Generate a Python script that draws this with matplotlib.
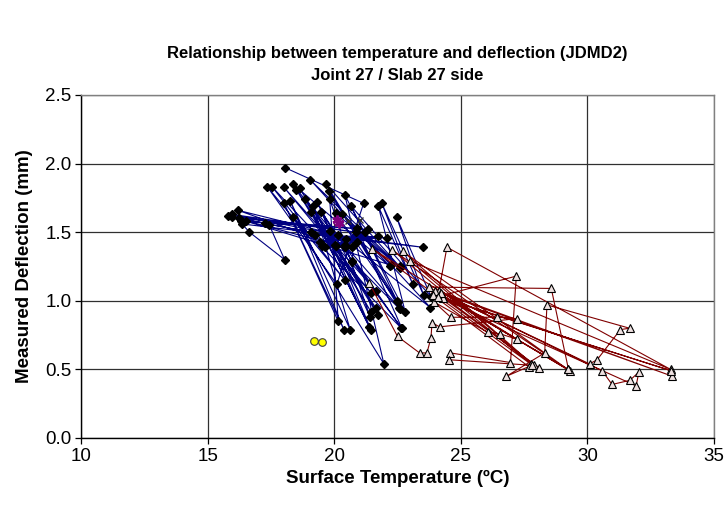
import matplotlib
matplotlib.use("Agg")
import matplotlib.pyplot as plt

plt.rcParams['font.family'] = ['Liberation Sans', 'DejaVu Sans']

##====================
## data
##====================
# joint side (blue line, black diamonds)
blue_temp = [18.06, 21.16, 20.10, 17.36, 20.42, 17.55, 21.45, 18.00, 21.65, 18.37,
             22.20, 19.06, 22.58, 19.68, 22.48, 19.79, 22.56, 18.84, 21.45, 18.50,
             21.63, 18.63, 21.71, 19.32, 21.42, 19.82, 20.16, 18.02, 20.38, 18.26,
             20.63, 19.18, 21.38, 19.10, 21.45, 19.49, 22.65, 18.37, 21.96, 20.42,
             22.80, 21.74, 23.10, 21.88, 23.53, 22.46, 23.82, 20.67, 22.50, 20.05,
             22.60, 20.32, 22.24, 15.80, 20.87, 15.95, 20.13, 16.19, 20.01, 15.98,
             20.47, 16.22, 21.32, 16.31, 16.52, 17.26, 17.44, 18.04, 16.65, 16.36,
             19.08, 23.50, 19.25, 22.10, 19.42, 21.72, 19.51, 20.91, 19.62, 20.71,
             19.84, 20.42, 20.05, 21.23, 20.41, 20.71, 20.74, 23.80, 20.90, 22.67,
             20.71, 22.58]
blue_defl = [1.97, 1.71, 1.12, 1.83, 1.15, 1.83, 1.06, 1.83, 1.07, 1.85,
             1.25, 1.88, 1.25, 1.85, 1.00, 1.80, 0.95, 1.74, 0.92, 1.81,
             0.95, 1.82, 0.90, 1.72, 0.88, 1.74, 0.85, 1.71, 0.79, 1.73,
             0.79, 1.69, 0.81, 1.65, 0.79, 1.65, 0.80, 1.61, 0.54, 1.77,
             0.92, 1.69, 1.12, 1.71, 1.04, 1.61, 1.03, 1.69, 0.99, 1.64,
             1.24, 1.63, 1.26, 1.62, 1.50, 1.63, 1.48, 1.66, 1.41, 1.61,
             1.45, 1.60, 1.52, 1.58, 1.58, 1.57, 1.55, 1.30, 1.50, 1.56,
             1.50, 1.39, 1.48, 1.46, 1.43, 1.47, 1.40, 1.43, 1.39, 1.39,
             1.51, 1.41, 1.40, 1.50, 1.39, 1.28, 1.40, 0.95, 1.53, 0.80,
             1.29, 0.94]

# slab side (dark red line, triangles)
red_temp = [21.38, 22.50, 23.37, 23.66, 23.82, 23.86, 24.16, 27.22, 26.43, 24.60,
            23.95, 26.06, 26.53, 27.22, 21.49, 27.75, 22.29, 29.22, 22.71, 27.88,
            23.00, 33.28, 24.45, 24.13, 33.35, 23.99, 29.30, 23.73, 28.57, 29.25,
            24.16, 28.10, 24.30, 33.30, 23.90, 27.68, 26.80, 28.31, 28.40, 31.66,
            31.30, 30.38, 30.08, 24.20, 30.58, 30.97, 31.67, 32.03, 31.92, 24.10,
            27.19, 26.96, 24.59, 24.55, 27.80]
red_defl = [1.13, 0.74, 0.62, 0.62, 0.73, 0.84, 0.81, 0.87, 0.88, 0.88,
            0.99, 0.77, 0.76, 0.72, 1.38, 0.54, 1.37, 0.50, 1.36, 0.53,
            1.29, 0.50, 1.39, 1.07, 0.45, 1.07, 0.49, 1.10, 1.09, 0.50,
            1.05, 0.51, 1.02, 0.49, 1.04, 0.52, 0.45, 0.62, 0.97, 0.80,
            0.79, 0.57, 0.54, 1.06, 0.49, 0.39, 0.42, 0.48, 0.38, 1.03,
            1.18, 0.55, 0.62, 0.57, 0.53]

# odd extra readings
purple_temp = [20.10, 20.18]
purple_defl = [1.59, 1.57]
cross_temp = [20.54, 21.03]
cross_defl = [1.58, 1.59]
yellow_temp = [19.21, 19.50]
yellow_defl = [0.71, 0.70]

##====================
## plot
##====================
fig = plt.figure(figsize=(7.26, 5.11), dpi=100)
ax = fig.add_axes([0.1116, 0.1429, 0.872, 0.6712])

ax.plot(blue_temp, blue_defl, color="#000080", lw=0.8, marker="D",
        ms=4.2, mfc="black", mec="black", zorder=3)
ax.plot(red_temp, red_defl, color="#800000", lw=0.8, marker="^",
        ms=5.5, mfc="#eee0e0", mec="black", mew=0.8, zorder=4)
ax.plot(purple_temp, purple_defl, ls="none", marker=(6, 2, 0), ms=7,
        mec="#800080", mew=2, zorder=5)
ax.plot(cross_temp, cross_defl, ls="none", marker="x", ms=4,
        mec="#303030", mew=1, zorder=5)
ax.plot(yellow_temp, yellow_defl, ls="none", marker="o", ms=5.5,
        mfc="#ffff00", mec="#404040", mew=0.8, zorder=5)

ax.set_xlim(10, 35)
ax.set_ylim(0, 2.5)
ax.set_xticks([10, 15, 20, 25, 30, 35])
ax.set_yticks([0.0, 0.5, 1.0, 1.5, 2.0, 2.5])
ax.set_yticklabels(["0.0", "0.5", "1.0", "1.5", "2.0", "2.5"])
ax.grid(True, color="#303030", lw=0.9)
ax.set_axisbelow(True)
ax.tick_params(direction="out", length=4, width=0.9, labelsize=13.5, pad=3)

for s in ["left", "bottom"]:
    ax.spines[s].set_color("black")
    ax.spines[s].set_linewidth(1.0)
for s in ["top", "right"]:
    ax.spines[s].set_color("#808080")
    ax.spines[s].set_linewidth(1.0)

ax.set_xlabel("Surface Temperature (ºC)", fontsize=13.5, fontweight="bold", labelpad=4)
ax.set_ylabel("Measured Deflection (mm)", fontsize=13.5, fontweight="bold", labelpad=9)
ax.set_title("Relationship between temperature and deflection (JDMD2)\nJoint 27 / Slab 27 side",
             fontsize=12, fontweight="bold", pad=11, linespacing=1.55)

fig.savefig("out.png", dpi=100)
